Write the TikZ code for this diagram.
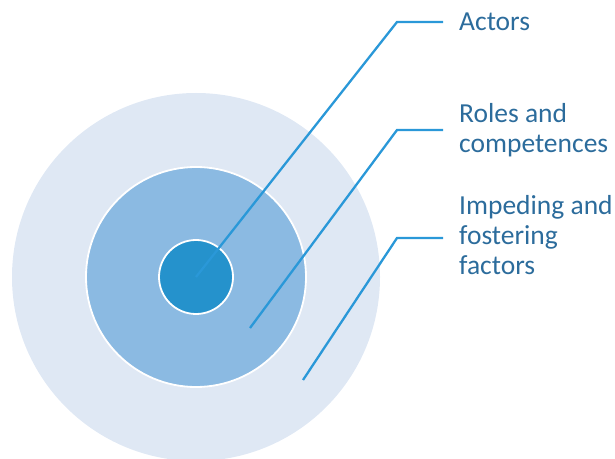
\documentclass[tikz,border=0pt]{standalone}
\usepackage{fontspec}
\setmainfont{Carlito}
\definecolor{ringout}{HTML}{DFE8F4}
\definecolor{ringmid}{HTML}{8BBAE2}
\definecolor{core}{HTML}{2592CC}
\definecolor{leader}{HTML}{2A98D8}
\definecolor{labeltext}{HTML}{2C6C9C}
\begin{document}
\begin{tikzpicture}[x=1pt,y=1pt,
  ring/.style={circle,inner sep=0pt,draw=white,line width=1.8pt},
  leaderline/.style={draw=leader,line width=2.3pt},
  label/.style={anchor=base west,inner sep=0pt,align=left,text=labeltext,
    font=\fontsize{27.5}{30}\selectfont}]
  \useasboundingbox (0,0) rectangle (615,458);
  % concentric rings
  \node[ring,draw=none,fill=ringout,minimum size=368pt] (outer) at (196,181) {};
  \node[ring,fill=ringmid,minimum size=220pt] (middle) at (196,181) {};
  \node[ring,fill=core,minimum size=74pt] (inner) at (196,181) {};
  % leader anchor points
  \coordinate (p1) at (196,181);
  \coordinate (p2) at (250,130);
  \coordinate (p3) at (303,78);
  \coordinate (k1) at (397,436);
  \coordinate (k2) at (397,328);
  \coordinate (k3) at (397,220);
  \coordinate (e1) at (443,436);
  \coordinate (e2) at (443,328);
  \coordinate (e3) at (443,220);
  % labels
  \node[label] (actors) at (459,427) {Actors};
  \node[label] (roles) at (459,305) {Roles and\\competences};
  \node[label] (factors) at (459,183) {Impeding and\\fostering\\factors};
  % leaders
  \draw[leaderline] (p1) -- (k1) -- (e1);
  \draw[leaderline] (p2) -- (k2) -- (e2);
  \draw[leaderline] (p3) -- (k3) -- (e3);
\end{tikzpicture}
\end{document}
